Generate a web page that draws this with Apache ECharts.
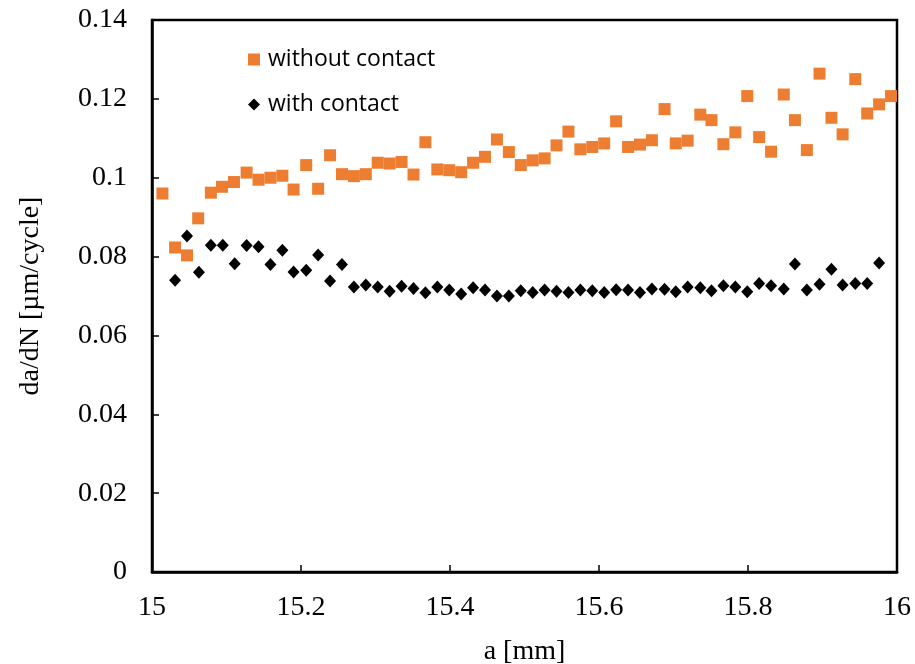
<!DOCTYPE html>
<html>
<head>
<meta charset="utf-8">
<script src="https://cdn.jsdelivr.net/npm/echarts@6/dist/echarts.min.js"></script>
<style>html,body{margin:0;padding:0;background:#fff}#c{width:915px;height:664px}</style>
</head>
<body>
<div id="c"></div>
<script>
const withoutA = [15.014,15.031,15.047,15.062,15.079,15.094,15.110,15.127,15.143,15.159,15.175,15.190,15.207,15.223,15.239,15.255,15.271,15.287,15.303,15.319,15.335,15.351,15.367,15.383,15.399,15.415,15.431,15.447,15.463,15.479,15.495,15.511,15.527,15.543,15.559,15.575,15.591,15.607,15.623,15.639,15.655,15.671,15.688,15.703,15.719,15.736,15.751,15.767,15.783,15.799,15.815,15.831,15.848,15.863,15.879,15.896,15.912,15.927,15.944,15.960,15.976,15.992];
const withoutV = [0.0960,0.0823,0.0803,0.0897,0.0962,0.0977,0.0989,0.1013,0.0995,0.1000,0.1005,0.0970,0.1032,0.0972,0.1057,0.1009,0.1004,0.1009,0.1038,0.1036,0.1040,0.1008,0.1090,0.1021,0.1019,0.1014,0.1038,0.1053,0.1097,0.1065,0.1032,0.1044,0.1049,0.1082,0.1117,0.1072,0.1078,0.1087,0.1143,0.1078,0.1084,0.1095,0.1174,0.1087,0.1094,0.1160,0.1146,0.1085,0.1115,0.1207,0.1103,0.1066,0.1211,0.1146,0.1070,0.1264,0.1152,0.1110,0.1250,0.1163,0.1186,0.1207];
const withA = [15.031,15.047,15.063,15.079,15.095,15.111,15.127,15.143,15.159,15.175,15.190,15.207,15.223,15.239,15.255,15.271,15.287,15.303,15.319,15.335,15.351,15.367,15.383,15.399,15.415,15.431,15.447,15.463,15.479,15.495,15.511,15.527,15.543,15.559,15.575,15.591,15.607,15.623,15.639,15.655,15.671,15.688,15.703,15.719,15.736,15.751,15.767,15.783,15.799,15.815,15.831,15.848,15.863,15.879,15.896,15.912,15.927,15.944,15.960,15.976];
const withV = [0.0740,0.0852,0.0760,0.0829,0.0829,0.0782,0.0828,0.0825,0.0780,0.0816,0.0761,0.0765,0.0804,0.0738,0.0780,0.0723,0.0728,0.0723,0.0712,0.0725,0.0719,0.0708,0.0723,0.0715,0.0705,0.0721,0.0715,0.0700,0.0700,0.0713,0.0709,0.0715,0.0712,0.0709,0.0715,0.0713,0.0709,0.0716,0.0715,0.0709,0.0718,0.0717,0.0711,0.0723,0.0721,0.0713,0.0726,0.0723,0.0711,0.0732,0.0726,0.0718,0.0781,0.0715,0.0730,0.0768,0.0728,0.0732,0.0732,0.0784];
const xTicks = [15,15.2,15.4,15.6,15.8,16];
const yTicks = [0,0.02,0.04,0.06,0.08,0.1,0.12,0.14];

const zip = (a, b) => a.map((x, i) => [x, b[i]]);
const serif = '"Liberation Serif","Times New Roman",serif';
const chart = echarts.init(document.getElementById('c'), null, {renderer: 'canvas'});
chart.setOption({
  animation: false,
  backgroundColor: '#fff',
  grid: {left: 152, right: 18, top: 20, bottom: 92, outerBoundsMode: 'none', containLabel: false,
         show: true, borderColor: '#000', borderWidth: 2.5, backgroundColor: 'transparent'},
  legend: {
    orient: 'vertical', left: 248, top: 48, padding: 0, itemGap: 22, itemWidth: 12, itemHeight: 12,
    textStyle: {fontFamily: '"Open Sans","Noto Sans",sans-serif', fontSize: 23, color: '#000', padding: [0, 0, 0, 3]},
    data: [{name: 'without contact', icon: 'rect'}, {name: 'with contact', icon: 'diamond'}]
  },
  xAxis: {
    type: 'value', min: xTicks[0], max: xTicks[xTicks.length - 1], interval: 0.2,
    name: 'a [mm]', nameLocation: 'middle', nameGap: 66,
    nameTextStyle: {fontFamily: serif, fontSize: 28, color: '#000'},
    axisLine: {lineStyle: {color: '#000', width: 2.5}},
    axisTick: {inside: true, length: 7, lineStyle: {color: '#000', width: 1.5}},
    axisLabel: {fontFamily: serif, fontSize: 28, color: '#000', margin: 22,
      formatter: v => String(parseFloat(v.toFixed(1)))},
    splitLine: {show: false}
  },
  yAxis: {
    type: 'value', min: yTicks[0], max: yTicks[yTicks.length - 1], interval: 0.02,
    name: 'da/dN [µm/cycle]', nameLocation: 'middle', nameGap: 107,
    nameTextStyle: {fontFamily: serif, fontSize: 28, color: '#000'},
    axisLine: {lineStyle: {color: '#000', width: 2.5}},
    axisTick: {inside: true, length: 7, lineStyle: {color: '#000', width: 1.5}},
    axisLabel: {fontFamily: serif, fontSize: 28, color: '#000', margin: 25,
      formatter: v => String(parseFloat(v.toFixed(2)))},
    splitLine: {show: false}
  },
  series: [
    {name: 'without contact', type: 'scatter', symbol: 'rect', symbolSize: 12,
     itemStyle: {color: '#ED7D31', opacity: 1}, data: zip(withoutA, withoutV)},
    {name: 'with contact', type: 'scatter', symbol: 'diamond', symbolSize: [12, 13],
     itemStyle: {color: '#000', opacity: 1}, data: zip(withA, withV)}
  ]
});
</script>
</body>
</html>
